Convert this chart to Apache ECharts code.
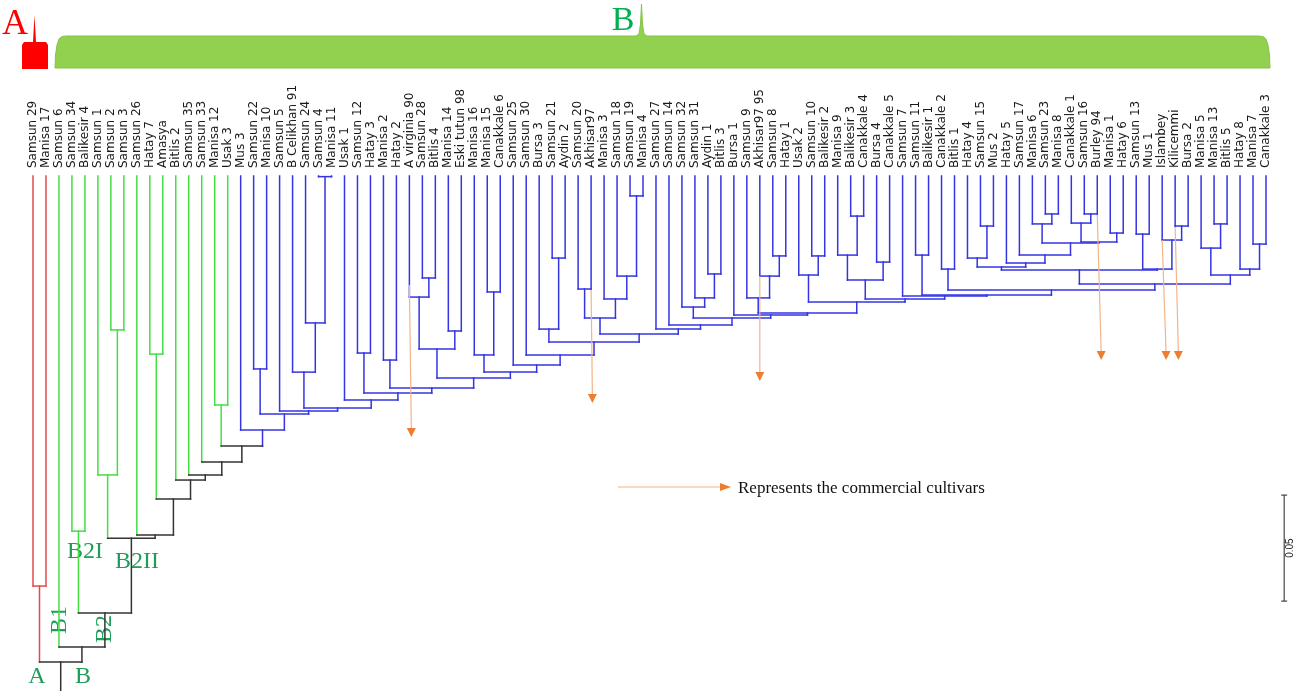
<!DOCTYPE html>
<html>
<head>
<meta charset="utf-8">
<style>
  html, body { margin: 0; padding: 0; background: #fff; }
  #main { width: 1302px; height: 691px; }
</style>
<script src="https://cdn.jsdelivr.net/npm/echarts@6/dist/echarts.min.js"></script>
</head>
<body>
<div id="main"></div>
<script>
// leaf labels, left to right
var leaves = [
  'Samsun 29', 'Manisa 17', 'Samsun 6', 'Samsun 34', 'Balikesir 4', 'Samsun 1', 'Samsun 2', 'Samsun 3',
  'Samsun 26', 'Hatay 7', 'Amasya', 'Bitlis 2', 'Samsun 35', 'Samsun 33', 'Manisa 12', 'Usak 3',
  'Mus 3', 'Samsun 22', 'Manisa 10', 'Samsun 5', 'B Celikhan 91', 'Samsun 24', 'Samsun 4', 'Manisa 11',
  'Usak 1', 'Samsun 12', 'Hatay 3', 'Manisa 2', 'Hatay 2', 'A virginia 90', 'Samsun 28', 'Bitlis 4',
  'Manisa 14', 'Eski tutun 98', 'Manisa 16', 'Manisa 15', 'Canakkale 6', 'Samsun 25', 'Samsun 30', 'Bursa 3',
  'Samsun 21', 'Aydin 2', 'Samsun 20', 'Akhisar97', 'Manisa 3', 'Samsun 18', 'Samsun 19', 'Manisa 4',
  'Samsun 27', 'Samsun 14', 'Samsun 32', 'Samsun 31', 'Aydin 1', 'Bitlis 3', 'Bursa 1', 'Samsun 9',
  'Akhisar97 95', 'Samsun 8', 'Hatay 1', 'Usak 2', 'Samsun 10', 'Balikesir 2', 'Manisa 9', 'Balikesir 3',
  'Canakkale 4', 'Bursa 4', 'Canakkale 5', 'Samsun 7', 'Samsun 11', 'Balikesir 1', 'Canakkale 2', 'Bitlis 1',
  'Hatay 4', 'Samsun 15', 'Mus 2', 'Hatay 5', 'Samsun 17', 'Manisa 6', 'Samsun 23', 'Manisa 8',
  'Canakkale 1', 'Samsun 16', 'Burley 94', 'Manisa 1', 'Hatay 6', 'Samsun 13', 'Mus 1', 'Islambey',
  'Kilicemmi', 'Bursa 2', 'Manisa 5', 'Manisa 13', 'Bitlis 5', 'Hatay 8', 'Manisa 7', 'Canakkale 3'
]

// consecutive leaves per cluster: A (red), B green, B blue
var clusterSizes = [2, 14, 80]
var clusterColors = ['#e24a4a', '#44dd44', '#3434e2']
var mixedColor = '#333333'

// merges: [left, right, distance]; a number is a leaf index, 'mN' is merge N
var merges = [
  [0, 1, 0.1934],
  [6, 7, 0.0726],
  [5, 'm1', 0.1410],
  [3, 4, 0.1675],
  [9, 10, 0.0840],
  [14, 15, 0.1080],
  [17, 18, 0.0910],
  [22, 23, 0.0003],
  [21, 'm7', 0.0693],
  [20, 'm8', 0.0925],
  [25, 26, 0.0835],
  [27, 28, 0.0868],
  [30, 31, 0.0481],
  [29, 'm12', 0.0571],
  [32, 33, 0.0731],
  ['m13', 'm14', 0.0816],
  [35, 36, 0.0547],
  [34, 'm16', 0.0844],
  [40, 41, 0.0387],
  [39, 'm18', 0.0722],
  [42, 43, 0.0533],
  [46, 47, 0.0094],
  [45, 'm21', 0.0472],
  [44, 'm22', 0.0580],
  ['m20', 'm23', 0.0670],
  [52, 53, 0.0462],
  [51, 'm25', 0.0575],
  [50, 'm26', 0.0618],
  [57, 58, 0.0377],
  [56, 'm28', 0.0472],
  [55, 'm29', 0.0575],
  [60, 61, 0.0377],
  [59, 'm31', 0.0467],
  [63, 64, 0.0189],
  [62, 'm33', 0.0373],
  [65, 66, 0.0406],
  ['m34', 'm35', 0.0491],
  [68, 69, 0.0373],
  [70, 71, 0.0439],
  [73, 74, 0.0236],
  [72, 'm39', 0.0387],
  [78, 79, 0.0179],
  [77, 'm41', 0.0226],
  [81, 82, 0.0179],
  [80, 'm43', 0.0222],
  [83, 84, 0.0269],
  ['m44', 'm45', 0.0311],
  ['m42', 'm46', 0.0316],
  [76, 'm47', 0.0373],
  [75, 'm48', 0.0410],
  ['m40', 'm49', 0.0429],
  [85, 86, 0.0274],
  [88, 89, 0.0236],
  [87, 'm52', 0.0302],
  ['m51', 'm53', 0.0439],
  ['m50', 'm54', 0.0443],
  [91, 92, 0.0226],
  [90, 'm56', 0.0340],
  [94, 95, 0.0321],
  [93, 'm58', 0.0439],
  ['m57', 'm59', 0.0467],
  ['m55', 'm60', 0.0509],
  ['m38', 'm61', 0.0538],
  ['m37', 'm62', 0.0561],
  [67, 'm63', 0.0566],
  ['m36', 'm64', 0.0580],
  ['m32', 'm65', 0.0594],
  ['m30', 'm66', 0.0646],
  [54, 'm67', 0.0656],
  ['m27', 'm68', 0.0670],
  [49, 'm69', 0.0703],
  [48, 'm70', 0.0722],
  ['m24', 'm71', 0.0745],
  ['m19', 'm72', 0.0783],
  [38, 'm73', 0.0844],
  [37, 'm74', 0.0892],
  ['m17', 'm75', 0.0925],
  ['m15', 'm76', 0.0953],
  ['m11', 'm77', 0.1000],
  ['m10', 'm78', 0.1024],
  [24, 'm79', 0.1057],
  ['m9', 'm80', 0.1094],
  [19, 'm81', 0.1108],
  ['m6', 'm82', 0.1123],
  [16, 'm83', 0.1198],
  ['m5', 'm84', 0.1274],
  [13, 'm85', 0.1349],
  [12, 'm86', 0.1410],
  [11, 'm87', 0.1434],
  ['m4', 'm88', 0.1524],
  [8, 'm89', 0.1693],
  ['m2', 'm90', 0.1708],
  ['m3', 'm91', 0.2061],
  [2, 'm92', 0.2222],
  ['m0', 'm93', 0.2292]
]
var maxDistance = 0.2429

// commercial cultivars marked with arrows
var cultivarLeaves = [29, 43, 56, 82, 87, 88]
var arrowStart = [0.0514, 0.0538, 0.0472, 0.0184, 0.0302, 0.0241]
var arrowEnd = [0.1231, 0.1071, 0.0967, 0.0868, 0.0868, 0.0868]
var arrowDrift = [0.15, 0.1, 0, 0.3, 0.3, 0.25]

var scaleBarLength = 0.05
var scaleBarStart = 0.1505
var scaleBarX = 96.4

// build segments
var leafCluster = []
clusterSizes.forEach(function (n, c) {
  for (var i = 0; i < n; i++) leafCluster.push(c)
})
var nodes = []
var segments = []
function ref(r) {
  if (typeof r === 'string') return nodes[+r.slice(1)]
  return { x: r, h: 0, c: leafCluster[r] }
}
merges.forEach(function (m) {
  var a = ref(m[0])
  var b = ref(m[1])
  var node = { x: (a.x + b.x) / 2, h: m[2], c: a.c === b.c ? a.c : -1 }
  nodes.push(node)
  segments.push([a.x, a.h, a.x, m[2], a.c])
  segments.push([b.x, b.h, b.x, m[2], b.c])
  segments.push([a.x, m[2], b.x, m[2], node.c])
})
var root = nodes[nodes.length - 1]
segments.push([root.x, root.h, root.x, maxDistance, -1])

var arrowData = cultivarLeaves.map(function (leaf, i) {
  return [leaf, arrowStart[i], arrowEnd[i], arrowDrift[i]]
})

var chart = echarts.init(document.getElementById('main'))
var serif = '"Liberation Serif", "Times New Roman", serif'
var labelGreen = '#1e9e58'

var option = {
  animation: false,
  backgroundColor: '#fff',
  grid: { left: 33, right: 36, top: 176, bottom: 0 },
  xAxis: {
    type: 'value',
    position: 'top',
    min: 0,
    max: 95,
    interval: 1,
    axisLine: { show: false },
    axisTick: { show: false },
    splitLine: { show: false },
    axisLabel: {
      rotate: 90,
      margin: 8,
      fontFamily: 'DejaVu Sans',
      fontSize: 12,
      color: '#1a1a1a',
      formatter: function (v) { return leaves[v] || '' }
    }
  },
  yAxis: { type: 'value', min: 0, max: maxDistance, inverse: true, show: false },
  series: [
    {
      type: 'custom',
      name: 'tree',
      data: segments,
      encode: { x: [0, 2], y: [1, 3] },
      renderItem: function (params, api) {
        var p1 = api.coord([api.value(0), api.value(1)])
        var p2 = api.coord([api.value(2), api.value(3)])
        var c = api.value(4)
        return {
          type: 'line',
          shape: { x1: p1[0], y1: p1[1], x2: p2[0], y2: p2[1] },
          style: { stroke: c < 0 ? mixedColor : clusterColors[c], lineWidth: 1.5, lineCap: 'square' }
        }
      }
    },
    {
      type: 'custom',
      name: 'cultivars',
      data: arrowData,
      encode: { x: 0, y: [1, 2] },
      renderItem: function (params, api) {
        var leaf = api.value(0)
        var p1 = api.coord([leaf, api.value(1)])
        var p2 = api.coord([leaf + api.value(3), api.value(2)])
        return {
          type: 'group',
          children: [
            { type: 'line', shape: { x1: p1[0], y1: p1[1], x2: p2[0], y2: p2[1] - 8 }, style: { stroke: '#f2b48a', lineWidth: 1.2 } },
            { type: 'polygon', shape: { points: [[p2[0] - 4.5, p2[1] - 9], [p2[0] + 4.5, p2[1] - 9], [p2[0], p2[1]]] }, style: { fill: '#ed7d31' } }
          ]
        }
      }
    },
    {
      type: 'custom',
      name: 'scale',
      data: [[scaleBarX, scaleBarStart, scaleBarLength]],
      encode: { x: 0, y: 1 },
      renderItem: function (params, api) {
        var t = api.coord([api.value(0), api.value(1)])
        var b = api.coord([api.value(0), api.value(1) + api.value(2)])
        return {
          type: 'group',
          children: [
            { type: 'line', shape: { x1: t[0], y1: t[1], x2: b[0], y2: b[1] }, style: { stroke: '#222', lineWidth: 1 } },
            { type: 'line', shape: { x1: t[0] - 3, y1: t[1], x2: t[0] + 3, y2: t[1] }, style: { stroke: '#222', lineWidth: 1 } },
            { type: 'line', shape: { x1: b[0] - 3, y1: b[1], x2: b[0] + 3, y2: b[1] }, style: { stroke: '#222', lineWidth: 1 } },
            {
              type: 'text', x: t[0] + 6, y: (t[1] + b[1]) / 2, rotation: Math.PI / 2,
              style: { text: String(api.value(2)), fontSize: 10, fontFamily: 'Liberation Sans', fill: '#222', align: 'center', verticalAlign: 'middle' }
            }
          ]
        }
      }
    }
  ],
  graphic: [
    // cluster brackets at the top
    {
      type: 'polygon',
      shape: { points: [[22, 69], [22, 45], [24, 42], [33, 42], [34.5, 15], [36, 42], [46, 42], [48, 45], [48, 69]] },
      style: { fill: '#ff0000' }
    },
    {
      type: 'polygon',
      shape: {
        points: [[55, 68], [55.5, 55], [57, 45], [59, 39], [62, 36.5], [66, 36], [636, 36], [639, 34], [640.5, 24],
          [641.5, 4], [642.5, 24], [644, 34], [647, 36], [1258, 36], [1263, 36.5], [1266, 39], [1268, 45],
          [1269.5, 55], [1270, 68]]
      },
      style: { fill: '#92d050', stroke: '#86c447', lineWidth: 1 }
    },
    { type: 'text', x: 15, y: 25, style: { text: 'A', fontSize: 36, fontFamily: serif, fill: '#ff0000', align: 'center', verticalAlign: 'middle' } },
    { type: 'text', x: 623, y: 21, style: { text: 'B', fontSize: 34, fontFamily: serif, fill: '#00b050', align: 'center', verticalAlign: 'middle' } },
    // clade labels on the tree
    { type: 'text', x: 37, y: 677, style: { text: 'A', fontSize: 24, fontFamily: serif, fill: labelGreen, align: 'center', verticalAlign: 'middle' } },
    { type: 'text', x: 83, y: 677, style: { text: 'B', fontSize: 24, fontFamily: serif, fill: labelGreen, align: 'center', verticalAlign: 'middle' } },
    { type: 'text', x: 60, y: 620, rotation: Math.PI / 2, style: { text: 'B1', fontSize: 24, fontFamily: serif, fill: labelGreen, align: 'center', verticalAlign: 'middle' } },
    { type: 'text', x: 105, y: 629, rotation: Math.PI / 2, style: { text: 'B2', fontSize: 24, fontFamily: serif, fill: labelGreen, align: 'center', verticalAlign: 'middle' } },
    { type: 'text', x: 85, y: 552, style: { text: 'B2I', fontSize: 24, fontFamily: serif, fill: labelGreen, align: 'center', verticalAlign: 'middle' } },
    { type: 'text', x: 137, y: 562, style: { text: 'B2II', fontSize: 24, fontFamily: serif, fill: labelGreen, align: 'center', verticalAlign: 'middle' } },
    // arrow legend
    { type: 'line', shape: { x1: 618, y1: 487, x2: 722, y2: 487 }, style: { stroke: '#f2b48a', lineWidth: 1.2 } },
    { type: 'polygon', shape: { points: [[720, 483], [731, 487], [720, 491]] }, style: { fill: '#ed7d31' } },
    { type: 'text', x: 738, y: 489, style: { text: 'Represents the commercial cultivars', fontSize: 17, fontFamily: serif, fill: '#111', align: 'left', verticalAlign: 'middle' } }
  ]
}
chart.setOption(option)
</script>
</body>
</html>
